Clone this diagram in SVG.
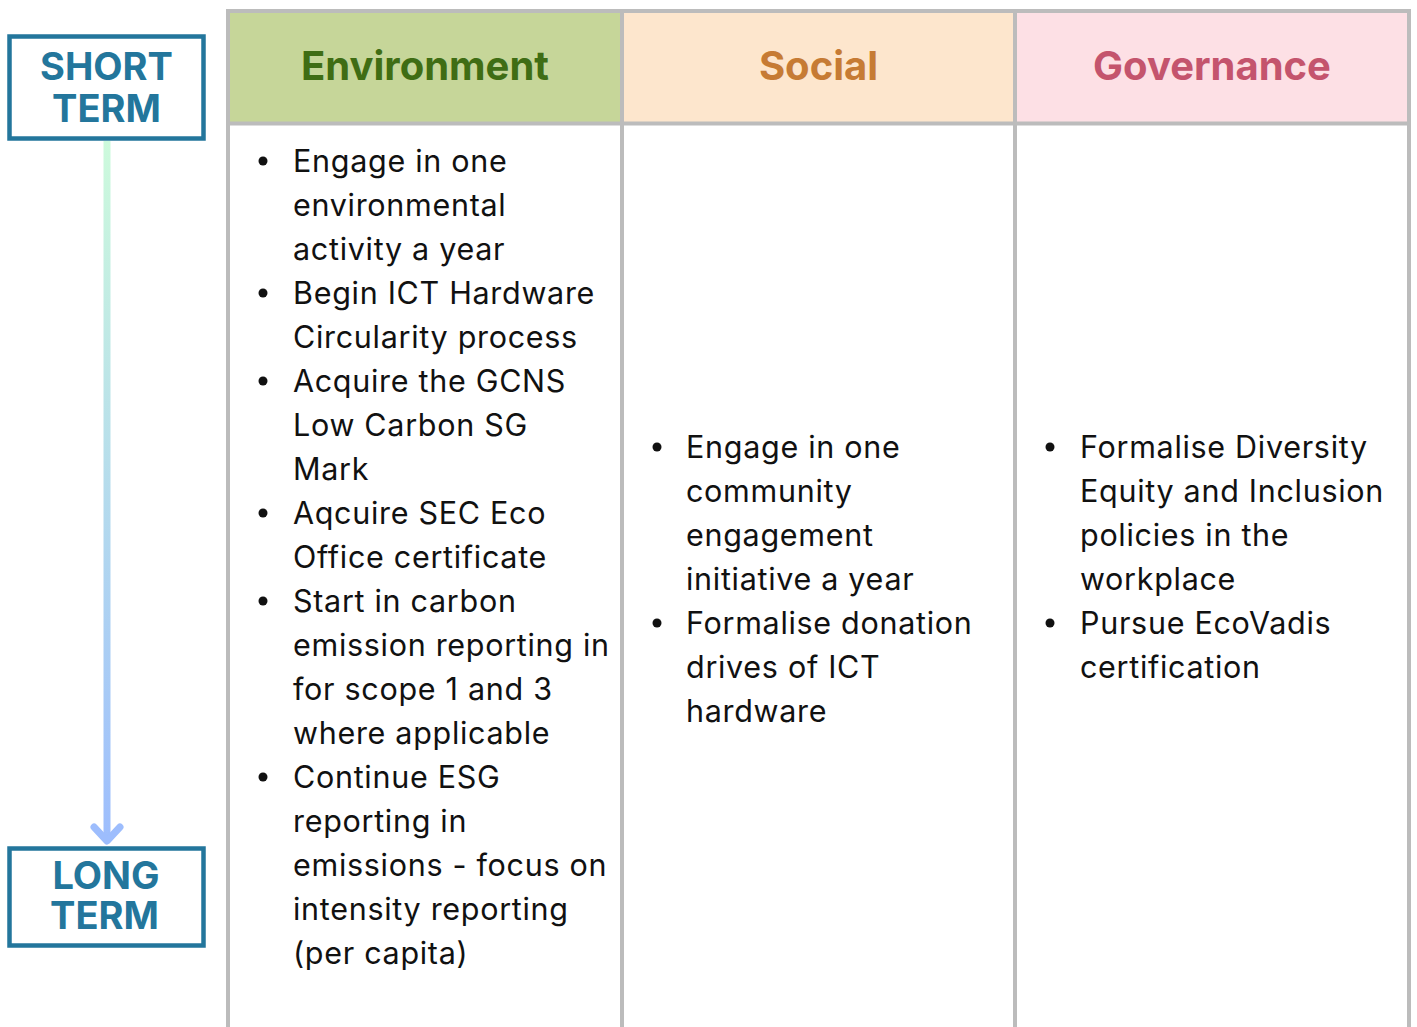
<svg xmlns="http://www.w3.org/2000/svg" width="1417" height="1027" viewBox="0 0 1417 1027">
<defs>
<linearGradient id="tl" x1="0" y1="0" x2="0" y2="1">
<stop offset="0" stop-color="#cdfadc"/>
<stop offset="1" stop-color="#9dbdfd"/>
</linearGradient>
<style>
.term{fill:#fff;stroke:#23769c;stroke-width:4.5}
.termt{font-family:Inter,"Liberation Sans",sans-serif;font-weight:700;font-size:38px;fill:#23769c;text-anchor:middle}
.grid{stroke:#bcbcbc;stroke-width:4;fill:none}
.hd{font-family:Inter,"Liberation Sans",sans-serif;font-weight:700;font-size:40px;text-anchor:middle}
.bd{font-family:Inter,"Liberation Sans",sans-serif;font-size:30.5px;letter-spacing:0.7px;fill:#111}
.bl{fill:#111}
</style>
</defs>
<rect width="1417" height="1027" fill="#fff"/>
<g id="connectors">
<rect x="103.5" y="141" width="7" height="700" fill="url(#tl)"/>
<polyline points="94,827 107,841 120,827" fill="none" stroke="#9dbdfd" stroke-width="7" stroke-linecap="round" stroke-linejoin="round"/>
</g>
<g id="short-term">
<rect class="term" x="9.5" y="36.5" width="194" height="102"/>
<text class="termt" x="106.5" y="80">SHORT</text>
<text class="termt" x="106.5" y="121.5">TERM</text>
</g>
<g id="long-term">
<rect class="term" x="9.5" y="848.5" width="194" height="97"/>
<text class="termt" x="106" y="889">LONG</text>
<text class="termt" x="104.5" y="929">TERM</text>
</g>
<g id="table">
<rect x="228" y="11" width="394" height="112" fill="#c6d699"/>
<rect x="622" y="11" width="393" height="112" fill="#fde6cd"/>
<rect x="1015" y="11" width="394" height="112" fill="#fde0e5"/>
<path class="grid" d="M228,1027V11H1409V1027M622,11V1027M1015,11V1027M228,123.5H1409"/>
</g>
<g id="environment">
<text class="hd" x="425" y="80" fill="#3f6d14">Environment</text>
<g class="bl">
<circle cx="263" cy="161" r="4.5"/>
<circle cx="263" cy="293" r="4.5"/>
<circle cx="263" cy="381" r="4.5"/>
<circle cx="263" cy="513" r="4.5"/>
<circle cx="263" cy="601" r="4.5"/>
<circle cx="263" cy="777" r="4.5"/>
</g>
<text class="bd">
<tspan x="293" y="172">Engage in one</tspan>
<tspan x="293" y="216">environmental</tspan>
<tspan x="293" y="260">activity a year</tspan>
<tspan x="293" y="304">Begin ICT Hardware</tspan>
<tspan x="293" y="348">Circularity process</tspan>
<tspan x="293" y="392">Acquire the GCNS</tspan>
<tspan x="293" y="436">Low Carbon SG</tspan>
<tspan x="293" y="480">Mark</tspan>
<tspan x="293" y="524">Aqcuire SEC Eco</tspan>
<tspan x="293" y="568">Office certificate</tspan>
<tspan x="293" y="612">Start in carbon</tspan>
<tspan x="293" y="656">emission reporting in</tspan>
<tspan x="293" y="700">for scope 1 and 3</tspan>
<tspan x="293" y="744">where applicable</tspan>
<tspan x="293" y="788">Continue ESG</tspan>
<tspan x="293" y="832">reporting in</tspan>
<tspan x="293" y="876">emissions - focus on</tspan>
<tspan x="293" y="920">intensity reporting</tspan>
<tspan x="293" y="964">(per capita)</tspan>
</text>
</g>
<g id="social">
<text class="hd" x="818.5" y="80" fill="#c67b34">Social</text>
<g class="bl">
<circle cx="657" cy="447" r="4.5"/>
<circle cx="657" cy="623" r="4.5"/>
</g>
<text class="bd">
<tspan x="686" y="458">Engage in one</tspan>
<tspan x="686" y="502">community</tspan>
<tspan x="686" y="546">engagement</tspan>
<tspan x="686" y="590">initiative a year</tspan>
<tspan x="686" y="634">Formalise donation</tspan>
<tspan x="686" y="678">drives of ICT</tspan>
<tspan x="686" y="722">hardware</tspan>
</text>
</g>
<g id="governance">
<text class="hd" x="1212" y="80" fill="#c4546d">Governance</text>
<g class="bl">
<circle cx="1050" cy="447" r="4.5"/>
<circle cx="1050" cy="623" r="4.5"/>
</g>
<text class="bd">
<tspan x="1080" y="458">Formalise Diversity</tspan>
<tspan x="1080" y="502">Equity and Inclusion</tspan>
<tspan x="1080" y="546">policies in the</tspan>
<tspan x="1080" y="590">workplace</tspan>
<tspan x="1080" y="634">Pursue EcoVadis</tspan>
<tspan x="1080" y="678">certification</tspan>
</text>
</g>
</svg>
